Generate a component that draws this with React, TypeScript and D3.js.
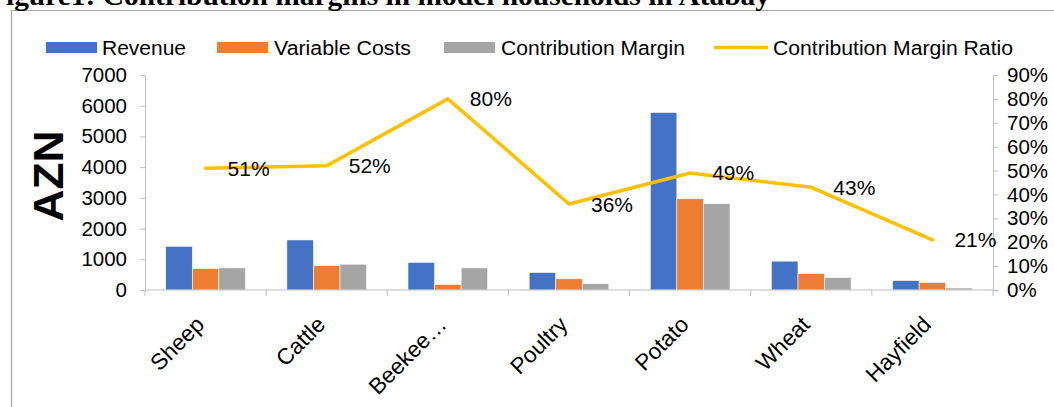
import React, { useEffect, useRef } from 'react';
import * as d3 from 'd3';

const categories = ['Sheep', 'Cattle', 'Beekee…', 'Poultry', 'Potato', 'Wheat', 'Hayfield'];
const revenue = [1420, 1630, 900, 570, 5780, 940, 310];
const variableCosts = [700, 790, 180, 365, 2970, 535, 245];
const contributionMargin = [720, 840, 720, 205, 2810, 405, 65];
const marginRatio = [0.51, 0.52, 0.8, 0.36, 0.49, 0.43, 0.21];
const leftTicks = [0, 1000, 2000, 3000, 4000, 5000, 6000, 7000];
const rightTicks = [0, 0.1, 0.2, 0.3, 0.4, 0.5, 0.6, 0.7, 0.8, 0.9];

const seriesNames = ['Revenue', 'Variable Costs', 'Contribution Margin'];
const seriesColors = ['#4472C4', '#ED7D31', '#A5A5A5'];
const lineColor = '#FFC000';

const W = 1054;
const H = 407;
const FONT = 'Arial, "Liberation Sans", sans-serif';

const App = () => {
  const svgRef = useRef<SVGSVGElement>(null);

  useEffect(() => {
    const svg = d3.select(svgRef.current);
    svg.selectAll('*').remove();

    const left = 145;
    const right = 993;
    const top = 75;
    const bottom = 290;

    // chart frame
    svg.append('path')
      .attr('d', `M11.5,${H} V10.5 H${W}`)
      .attr('fill', 'none')
      .attr('stroke', '#a6a6a6')
      .attr('stroke-width', 1.2);

    // title (partially cut off at the top)
    svg.append('text')
      .attr('x', -12)
      .attr('y', 5)
      .attr('font-family', '"Liberation Serif", "Times New Roman", serif')
      .attr('font-weight', 'bold')
      .attr('font-size', 28)
      .attr('textLength', 782)
      .attr('lengthAdjust', 'spacingAndGlyphs')
      .attr('fill', '#000')
      .text('Figure1: Contribution margins in model households in Atabay');

    const x0 = d3.scaleBand<string>().domain(categories).range([left, right]).paddingInner(0).paddingOuter(0);
    const x1 = d3.scaleBand<number>().domain([0, 1, 2]).range([0, x0.bandwidth()]).paddingInner(0).paddingOuter(0.78);
    const y = d3.scaleLinear().domain([0, 7000]).range([bottom, top]);
    const y2 = d3.scaleLinear().domain([0, 0.9]).range([bottom, top]);

    const axisColor = '#bfbfbf';

    // left axis
    const gl = svg.append('g')
      .attr('transform', `translate(${left},0)`)
      .call(d3.axisLeft(y).tickValues(leftTicks).tickSize(5).tickPadding(13).tickFormat(d3.format('d')));
    gl.select('.domain').attr('stroke', axisColor);
    gl.selectAll('.tick line').attr('stroke', axisColor);
    gl.selectAll('text')
      .attr('fill', '#000')
      .attr('font-family', FONT)
      .attr('font-size', 20.5);

    // right axis
    const gr = svg.append('g')
      .attr('transform', `translate(${right},0)`)
      .call(d3.axisRight(y2).tickValues(rightTicks).tickSize(5).tickPadding(9).tickFormat(d3.format('.0%')));
    gr.select('.domain').attr('stroke', axisColor);
    gr.selectAll('.tick line').attr('stroke', axisColor);
    gr.selectAll('text')
      .attr('fill', '#000')
      .attr('font-family', FONT)
      .attr('font-size', 20.5);

    // bars
    const series = [revenue, variableCosts, contributionMargin];
    series.forEach((vals, si) => {
      svg.append('g')
        .selectAll('rect')
        .data(vals)
        .join('rect')
        .attr('x', (d, i) => (x0(categories[i]) ?? 0) + (x1(si) ?? 0))
        .attr('y', d => y(d))
        .attr('width', x1.bandwidth())
        .attr('height', d => y(0) - y(d))
        .attr('fill', seriesColors[si])
        .attr('stroke', '#fff')
        .attr('stroke-width', 0.6);
    });

    // x axis
    const gx = svg.append('g')
      .attr('transform', `translate(0,${bottom})`);
    gx.append('line')
      .attr('x1', left).attr('x2', right)
      .attr('stroke', axisColor);
    gx.selectAll('line.tk')
      .data(d3.range(categories.length + 1))
      .join('line')
      .attr('class', 'tk')
      .attr('x1', i => left + i * x0.step())
      .attr('x2', i => left + i * x0.step())
      .attr('y1', 0).attr('y2', 6)
      .attr('stroke', axisColor);
    gx.selectAll('text')
      .data(categories)
      .join('text')
      .attr('transform', d => `translate(${(x0(d) ?? 0) + x0.bandwidth() / 2},${36}) rotate(-45)`)
      .attr('text-anchor', 'end')
      .attr('font-family', FONT)
      .attr('font-size', 22.5)
      .attr('fill', '#000')
      .text(d => d);

    // ratio line
    const cx = (i: number) => (x0(categories[i]) ?? 0) + x0.bandwidth() / 2;
    const line = d3.line<number>()
      .x((d, i) => cx(i))
      .y(d => y2(d));
    svg.append('path')
      .datum(marginRatio)
      .attr('d', line)
      .attr('fill', 'none')
      .attr('stroke', lineColor)
      .attr('stroke-width', 3.5)
      .attr('stroke-linejoin', 'round')
      .attr('stroke-linecap', 'round');

    svg.append('g')
      .selectAll('text')
      .data(marginRatio)
      .join('text')
      .attr('x', (d, i) => cx(i) + 22)
      .attr('y', d => y2(d) + 7.5)
      .attr('font-family', FONT)
      .attr('font-size', 21)
      .attr('fill', '#000')
      .text(d => `${Math.round(d * 100)}%`);

    // y axis title
    svg.append('text')
      .attr('transform', `translate(63,176) rotate(-90)`)
      .attr('text-anchor', 'middle')
      .attr('font-family', FONT)
      .attr('font-weight', 'bold')
      .attr('font-size', 42)
      .attr('textLength', 91)
      .attr('lengthAdjust', 'spacingAndGlyphs')
      .attr('fill', '#000')
      .text('AZN');

    // legend
    const legendItems = [
      { name: seriesNames[0], x: 46, text: 102, len: 84, color: seriesColors[0], type: 'rect' },
      { name: seriesNames[1], x: 217, text: 274, len: 137, color: seriesColors[1], type: 'rect' },
      { name: seriesNames[2], x: 444, text: 501, len: 184, color: seriesColors[2], type: 'rect' },
      { name: 'Contribution Margin Ratio', x: 714, text: 773, len: 240, color: lineColor, type: 'line' },
    ];
    const lg = svg.append('g');
    legendItems.forEach(it => {
      if (it.type === 'rect') {
        lg.append('rect')
          .attr('x', it.x).attr('y', 42)
          .attr('width', 51).attr('height', 11)
          .attr('fill', it.color);
      } else {
        lg.append('line')
          .attr('x1', it.x).attr('x2', it.x + 54)
          .attr('y1', 47.5).attr('y2', 47.5)
          .attr('stroke', it.color)
          .attr('stroke-width', 3.5);
      }
      lg.append('text')
        .attr('x', it.text)
        .attr('y', 54.5)
        .attr('font-family', FONT)
        .attr('font-size', 19.5)
        .attr('textLength', it.len)
        .attr('lengthAdjust', 'spacingAndGlyphs')
        .attr('fill', '#000')
        .text(it.name);
    });
  }, []);

  return (
    <svg
      ref={svgRef}
      width={W}
      height={H}
      viewBox={`0 0 ${W} ${H}`}
      style={{ position: 'absolute', left: 0, top: 0, background: '#fff' }}
    />
  );
};

export default App;
